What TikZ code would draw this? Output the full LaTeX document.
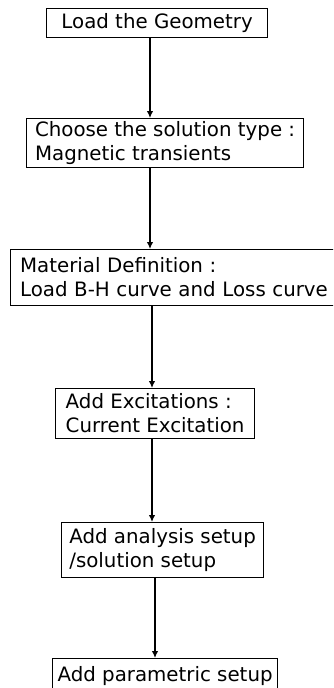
\documentclass[tikz,border=0pt]{standalone}
\usepackage{fontspec}
\setmainfont{DejaVu Sans}
\usetikzlibrary{arrows.meta}
\begin{document}
\begin{tikzpicture}[x=1pt,y=-1pt,
  box/.style={draw, line width=1.2pt, rectangle, anchor=north west, inner sep=0pt, align=left,
    font=\fontsize{19.8}{24}\selectfont},
  arr/.style={line width=1.3pt, -{Latex[length=7pt,width=6.5pt]}}]
\useasboundingbox (0,0) rectangle (333,688);
\clip (0,0) rectangle (333,688);
\fill[white] (0,0) rectangle (333,688);
\node[box, minimum width=221pt, minimum height=29pt] (b1) at (46,8) {Load the Geometry};
\node[box, minimum width=277pt, minimum height=49pt] (b2) at (26,118) {Choose the solution type :\\Magnetic transients};
\node[box, minimum width=340pt, minimum height=56pt, text width=320pt, inner xsep=10pt] (b3) at (9.5,249) {Material Definition :\\Load B-H curve and Loss curve};
\node[box, minimum width=199pt, minimum height=50pt] (b4) at (55,388) {Add Excitations :\\Current Excitation};
\node[box, minimum width=202pt, minimum height=55pt] (b5) at (61,522) {Add analysis setup\\/solution setup};
\node[box, minimum width=225pt, minimum height=34pt] (b6) at (52,658) {Add parametric setup};
\draw[arr] (150,0 |- b1.south) -- (150,0 |- b2.north);
\draw[arr] (150,0 |- b2.south) -- (150,0 |- b3.north);
\draw[arr] (152,0 |- b3.south) -- (152,0 |- b4.north);
\draw[arr] (152,0 |- b4.south) -- (152,0 |- b5.north);
\draw[arr] (155,0 |- b5.south) -- (155,0 |- b6.north);
\end{tikzpicture}
\end{document}
